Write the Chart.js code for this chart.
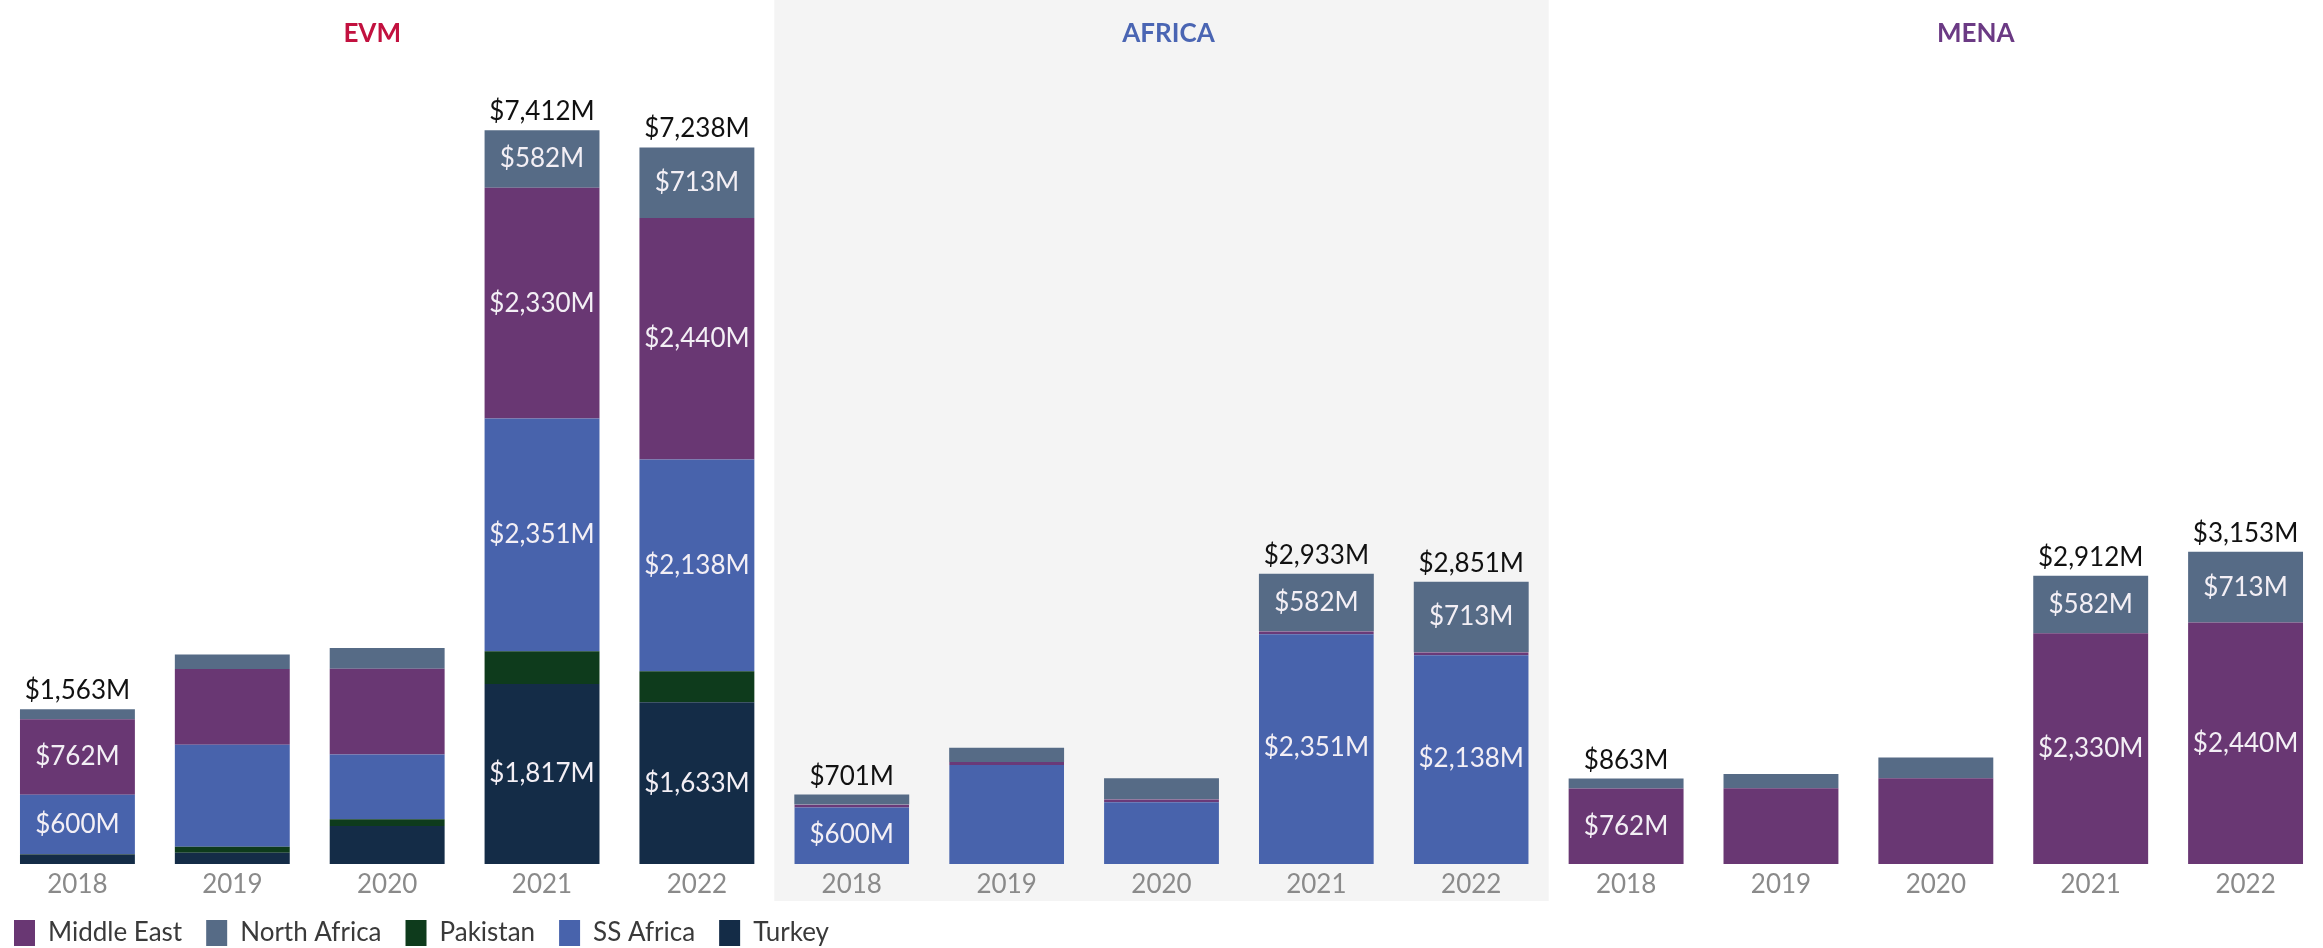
<!DOCTYPE html>
<html>
<head>
<meta charset="utf-8">
<title>EVM, Africa and MENA by year</title>
<script src="https://cdn.jsdelivr.net/npm/chart.js@4.4.1/dist/chart.umd.min.js"></script>
<style>
  html, body { margin: 0; padding: 0; background: #fff; overflow: hidden; }
  #wrap { position: relative; width: 2323px; height: 948px; }
</style>
</head>
<body>
<div id="wrap"><canvas id="regions-chart"></canvas></div>
<script>
// one row of years per panel
const years = ["2018", "2019", "2020", "2021", "2022"];
const panels = ["EVM", "AFRICA", "MENA"];
const panelColors = ["#c2113f", "#4a65b3", "#6b3a84"];
const panelTitleShift = [-15, 7, 40];

// $M, 15 slots: EVM 2018-2022, AFRICA 2018-2022, MENA 2018-2022
const turkey      = [96, 114, 384, 1817, 1633,   0, 0, 0, 0, 0,   0, 0, 0, 0, 0];
const pakistan    = [4, 61, 67, 332, 314,   0, 0, 0, 0, 0,   0, 0, 0, 0, 0];
const ssAfrica    = [600, 1030, 655, 2351, 2138,   600, 1030, 655, 2351, 2138,   0, 0, 0, 0, 0];
const middleEast  = [762, 765, 866, 2330, 2440,   0, 0, 0, 0, 0,   762, 765, 866, 2330, 2440];
const northAfrica = [101, 145, 210, 582, 713,   101, 145, 210, 582, 713,   101, 145, 210, 582, 713];

// only these years get value labels
const labelledYears = ["2018", "2021", "2022"];

const categories = panels.flatMap(() => years);
const totals = categories.map((_, i) =>
  turkey[i] + pakistan[i] + ssAfrica[i] + middleEast[i] + northAfrica[i]);

const money = v => "$" + v.toLocaleString("en-US") + "M";

// grey band behind the AFRICA panel
const panelBand = {
  id: "panelBand",
  beforeDraw(chart) {
    const x = chart.scales.x;
    const left = x.getPixelForValue(4.5);
    const right = x.getPixelForValue(9.5);
    const ctx = chart.ctx;
    ctx.save();
    ctx.fillStyle = "#f4f4f4";
    ctx.fillRect(left, 0, right - left, 901);
    ctx.restore();
  }
};

// EVM / AFRICA / MENA headings
const panelTitles = {
  id: "panelTitles",
  afterDraw(chart) {
    const x = chart.scales.x;
    const ctx = chart.ctx;
    ctx.save();
    ctx.font = "bold 26px Lato";
    ctx.textAlign = "center";
    ctx.textBaseline = "alphabetic";
    panels.forEach((name, p) => {
      ctx.fillStyle = panelColors[p];
      ctx.fillText(name, x.getPixelForValue(p * 5 + 2) + panelTitleShift[p], 42);
    });
    ctx.restore();
  }
};

// segment values inside bars, totals on top
const valueLabels = {
  id: "valueLabels",
  afterDatasetsDraw(chart) {
    const ctx = chart.ctx;
    const labels = chart.data.labels;
    ctx.save();
    ctx.font = "26px Lato";
    ctx.textAlign = "center";
    ctx.textBaseline = "middle";
    ctx.fillStyle = "#f3eff5";
    chart.data.datasets.forEach((ds, di) => {
      chart.getDatasetMeta(di).data.forEach((bar, i) => {
        const v = ds.data[i];
        if (!labelledYears.includes(labels[i]) || v < 500) return;
        ctx.fillText(money(v), bar.x, (bar.y + bar.base) / 2);
      });
    });
    ctx.fillStyle = "#111";
    ctx.textBaseline = "alphabetic";
    totals.forEach((t, i) => {
      if (!labelledYears.includes(labels[i])) return;
      ctx.fillText(money(t), chart.scales.x.getPixelForValue(i), chart.scales.y.getPixelForValue(t) - 10);
    });
    ctx.restore();
  }
};

// legend padding is wide for spacing between items; raise the top of the
// legend box so the row sits close under the year labels
const legendLift = {
  id: "legendLift",
  afterLayout(chart) {
    chart.legend.top -= 12;
  }
};

const inAfrica = c => c.dataIndex >= 5 && c.dataIndex < 10;

new Chart("regions-chart", {
  type: "bar",
  data: {
    labels: categories,
    datasets: [
      { label: "Turkey", data: turkey, backgroundColor: "#142c47" },
      { label: "Pakistan", data: pakistan, backgroundColor: "#0e3b1c" },
      {
        label: "SS Africa", data: ssAfrica, backgroundColor: "#4863ac",
        borderColor: "#6a3a78",
        borderWidth: c => inAfrica(c) ? { top: 3, left: 0, right: 0, bottom: 0 } : 0
      },
      { label: "Middle East", data: middleEast, backgroundColor: "#693773" },
      { label: "North Africa", data: northAfrica, backgroundColor: "#566b86" }
    ]
  },
  options: {
    responsive: true,
    maintainAspectRatio: false,
    animation: false,
    layout: { padding: { top: 60, left: -10, right: -11, bottom: 0 } },
    datasets: { bar: { barPercentage: 0.742, categoryPercentage: 1 } },
    scales: {
      x: {
        stacked: true,
        grid: { display: false, drawTicks: false },
        border: { display: false },
        ticks: {
          color: "#8a8a8a",
          font: { family: "Lato", size: 26 },
          padding: 5,
          autoSkip: false,
          maxRotation: 0
        },
        afterFit: scale => { scale.height = 44; }
      },
      y: { stacked: true, display: false, min: 0, max: 8121 }
    },
    plugins: {
      legend: {
        position: "bottom",
        align: "start",
        maxHeight: 40,
        labels: {
          boxWidth: 21,
          boxHeight: 26,
          padding: 24,
          color: "#3a3a3a",
          font: { family: "Lato", size: 26 },
          sort: (a, b) => a.text.localeCompare(b.text)
        }
      },
      tooltip: { enabled: false }
    }
  },
  plugins: [panelBand, panelTitles, valueLabels, legendLift]
});
</script>
</body>
</html>
